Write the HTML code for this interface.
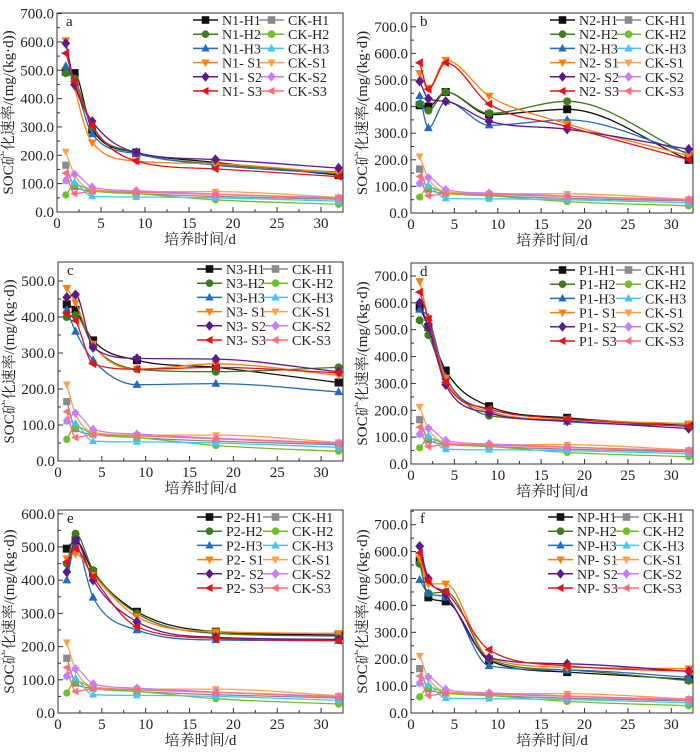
<!DOCTYPE html>
<html><head><meta charset="utf-8"><style>
html,body{margin:0;padding:0;background:#fff;}
svg{display:block;font-family:"Liberation Serif","Noto Serif CJK SC","Noto Sans CJK SC",serif;}
</style></head><body>
<svg id="fig" width="700" height="752" viewBox="0 0 700 752" xmlns="http://www.w3.org/2000/svg"></svg>
<script>
const days = [1, 2, 4, 9, 18, 32];
const seriesNames = ['H1','H2','H3','S1','S2','S3'];
const ckH1 = [165, 90, 75, 65, 55, 45];
const ckH2 = [60, 97, 75, 65, 43, 27];
const ckH3 = [110, 105, 55, 53, 50, 38];
const ckS1 = [213, 130, 80, 72, 72, 52];
const ckS2 = [112, 133, 88, 75, 63, 50];
const ckS3 = [137, 65, 73, 70, 62, 48];
const aH1 = [495, 490, 290, 210, 175, 130];
const aH2 = [490, 470, 300, 210, 170, 140];
const aH3 = [515, 455, 275, 205, 165, 135];
const aS1 = [605, 440, 245, 180, 170, 138];
const aS2 = [595, 450, 320, 210, 185, 155];
const aS3 = [560, 460, 305, 180, 152, 125];
const bH1 = [405, 400, 455, 370, 390, 200];
const bH2 = [410, 385, 455, 375, 420, 220];
const bH3 = [440, 320, 420, 330, 350, 225];
const bS1 = [525, 470, 575, 440, 335, 215];
const bS2 = [495, 430, 420, 345, 315, 240];
const bS3 = [565, 465, 565, 410, 325, 200];
const cH1 = [435, 420, 335, 280, 260, 218];
const cH2 = [400, 405, 320, 255, 248, 260];
const cH3 = [420, 360, 280, 212, 215, 192];
const cS1 = [480, 440, 325, 255, 270, 238];
const cS2 = [455, 462, 315, 285, 283, 248];
const cS3 = [410, 390, 270, 255, 260, 245];
const dH1 = [585, 510, 348, 215, 172, 143];
const dH2 = [535, 480, 320, 180, 165, 140];
const dH3 = [575, 545, 325, 200, 158, 142];
const dS1 = [680, 540, 320, 195, 165, 150];
const dS2 = [600, 510, 295, 190, 160, 132];
const dS3 = [640, 540, 305, 205, 168, 140];
const eH1 = [495, 520, 425, 305, 245, 235];
const eH2 = [450, 540, 430, 300, 240, 232];
const eH3 = [400, 505, 348, 250, 220, 218];
const eS1 = [465, 480, 415, 290, 245, 240];
const eS2 = [425, 520, 400, 275, 228, 222];
const eS3 = [455, 495, 410, 260, 225, 218];
const fH1 = [565, 430, 415, 195, 152, 125];
const fH2 = [555, 445, 450, 200, 160, 120];
const fH3 = [495, 445, 430, 175, 160, 133];
const fS1 = [575, 480, 480, 205, 170, 165];
const fS2 = [620, 500, 440, 205, 183, 155];
const fS3 = [595, 490, 450, 235, 175, 155];
const xTicks = [0, 5, 10, 15, 20, 25, 30];

const NS = 'http://www.w3.org/2000/svg';
const svg = document.getElementById('fig');
function mk(tag, attrs, parent){const e=document.createElementNS(NS,tag);for(const k in attrs)e.setAttribute(k,attrs[k]);(parent||svg).appendChild(e);return e;}

const trtColors = ['#111111','#3f7a1c','#1f6cc0','#ff7f0e','#5e1a8c','#e0141a'];
const ckColors = ['#8a8a8a','#6fbf2a','#45c4f5','#ffa04a','#c77dff','#ff6f78'];
const markers = ['sq','ci','tu','td','di','tl'];

const panels = [
 {id:'a',pre:'N1',L:57,R:343,T:13,y0:212,ppu:28.35/100,ymax:700,step:100,data:[aH1,aH2,aH3,aS1,aS2,aS3],lx:193},
 {id:'b',pre:'N2',L:411,R:693,T:13,y0:213,ppu:26.6/100,ymax:700,step:100,data:[bH1,bH2,bH3,bS1,bS2,bS3],lx:550},
 {id:'c',pre:'N3',L:58,R:343,T:262,y0:461,ppu:36/100,ymax:500,step:100,data:[cH1,cH2,cH3,cS1,cS2,cS3],lx:197},
 {id:'d',pre:'P1',L:411,R:693,T:263,y0:464,ppu:26.86/100,ymax:700,step:100,data:[dH1,dH2,dH3,dS1,dS2,dS3],lx:550},
 {id:'e',pre:'P2',L:58,R:343,T:510,y0:713,ppu:33.2/100,ymax:600,step:100,data:[eH1,eH2,eH3,eS1,eS2,eS3],lx:197},
 {id:'f',pre:'NP',L:411,R:693,T:510,y0:713,ppu:26.9/100,ymax:700,step:100,data:[fH1,fH2,fH3,fS1,fS2,fS3],lx:548}
];

function marker(g,type,x,y,color,r){
  let e;
  if(type==='sq') e=mk('rect',{x:x-r,y:y-r,width:2*r,height:2*r,fill:color},g);
  else if(type==='ci') e=mk('circle',{cx:x,cy:y,r:r,fill:color},g);
  else {
    let p;
    if(type==='tu') p=[[x,y-r*1.2],[x+r*1.1,y+r*0.8],[x-r*1.1,y+r*0.8]];
    if(type==='td') p=[[x,y+r*1.2],[x+r*1.1,y-r*0.8],[x-r*1.1,y-r*0.8]];
    if(type==='di') p=[[x,y-r*1.3],[x+r*1.1,y],[x,y+r*1.3],[x-r*1.1,y]];
    if(type==='tl') p=[[x-r*1.2,y],[x+r*0.8,y-r*1.1],[x+r*0.8,y+r*1.1]];
    e=mk('polygon',{points:p.map(q=>q.join(',')).join(' '),fill:color},g);
  }
  return e;
}
function smoothPath(pts){
  const n=pts.length, dx=[], s=[], m=[];
  for(let i=0;i<n-1;i++){dx[i]=pts[i+1][0]-pts[i][0];s[i]=(pts[i+1][1]-pts[i][1])/dx[i];}
  m[0]=s[0]; m[n-1]=s[n-2];
  for(let i=1;i<n-1;i++){ m[i]=(s[i-1]*s[i]<=0)?0:(s[i-1]+s[i])/2; }
  for(let i=0;i<n-1;i++){
    if(s[i]===0){m[i]=0;m[i+1]=0;continue;}
    const a=m[i]/s[i], b=m[i+1]/s[i], h=a*a+b*b;
    if(h>9){const t=3/Math.sqrt(h);m[i]=t*a*s[i];m[i+1]=t*b*s[i];}
  }
  let d='M'+pts[0][0].toFixed(1)+','+pts[0][1].toFixed(1);
  for(let i=0;i<n-1;i++){
    const h=dx[i]/3;
    d+=' C'+(pts[i][0]+h).toFixed(1)+','+(pts[i][1]+m[i]*h).toFixed(1)+' '+(pts[i+1][0]-h).toFixed(1)+','+(pts[i+1][1]-m[i+1]*h).toFixed(1)+' '+pts[i+1][0].toFixed(1)+','+pts[i+1][1].toFixed(1);
  }
  return d;
}
const ckData=[ckH1,ckH2,ckH3,ckS1,ckS2,ckS3];

panels.forEach(P=>{
  const g=mk('g',{});
  
  
  const B=P.y0;
  const xs=(P.R-P.L)/32.5;
  const X=v=>P.L+v*xs;
  const Y=v=>P.y0-v*P.ppu;
  const frame=mk('rect',{x:P.L,y:P.T,width:P.R-P.L,height:B-P.T,fill:'none',stroke:'#333',"stroke-width":1},g);
  
  
  xTicks.forEach(t=>{
    mk('line',{x1:X(t),x2:X(t),y1:B,y2:B-5,stroke:'#333'},g);
    const tx=mk('text',{x:X(t),y:B+16,"text-anchor":'middle',"font-size":15,fill:'#222'},g);
    tx.textContent=t;
    
    
    if(t<30) mk('line',{x1:X(t+2.5),x2:X(t+2.5),y1:B,y2:B-3,stroke:'#333'},g);
  });
  for(let v=0;v<=P.ymax;v+=P.step){
    mk('line',{x1:P.L,x2:P.L+5,y1:Y(v),y2:Y(v),stroke:'#333'},g);
    if(Y(v+P.step/2)>P.T+1) mk('line',{x1:P.L,x2:P.L+3,y1:Y(v+P.step/2),y2:Y(v+P.step/2),stroke:'#333'},g);
    const ty=mk('text',{x:P.L-3,y:Y(v)+5,"text-anchor":'end',"font-size":15,fill:'#222'},g);
    ty.textContent=v.toFixed(1);
    
    
  }
  const xt=mk('text',{x:(P.L+P.R)/2,y:B+32,"text-anchor":'middle',"font-size":15,fill:'#222'},g);
  xt.textContent='培养时间/d';
  
  
  const cy=(P.T+B)/2, cx=P.L-44;
  const yt=mk('text',{x:cx,y:cy,"text-anchor":'middle',"font-size":15,fill:'#222',transform:`rotate(-90 ${cx} ${cy})`},g);
  yt.textContent='SOC矿化速率/(mg/(kg·d))';
  
  
  const lab=mk('text',{x:P.L+9,y:P.T+13,"font-size":15,fill:'#222'},g);
  lab.textContent=P.id;
  
  
  const all=[];
  ckData.forEach((arr,i)=>all.push({arr,color:ckColors[i],m:markers[i],name:'CK-'+seriesNames[i],r:3.6}));
  P.data.forEach((arr,i)=>all.push({arr,color:trtColors[i],m:markers[i],name:P.pre+'-'+seriesNames[i],r:4}));
  all.forEach(s=>{
    const sg=mk('g',{},g);
    
    
    const pts=days.map((d,k)=>[X(d),Y(s.arr[k])]);
    mk('path',{d:smoothPath(pts),fill:'none',stroke:s.color,"stroke-width":1.3},sg);
    pts.forEach(p=>{
      const m=marker(sg,s.m,p[0],p[1],s.color,s.r);
      
      
    });
  });
  const lg=mk('g',{},g);
  
  
  seriesNames.forEach((n,i)=>{
    const y=P.T+7+i*14.2;
    const cols=[[P.lx,trtColors[i],P.pre+(n[0]==='S'?'- ':'-')+n],[P.lx+66,ckColors[i],'CK-'+n]];
    cols.forEach(c=>{
      const eg=mk('g',{},lg);
      
      
      mk('line',{x1:c[0],x2:c[0]+25,y1:y,y2:y,stroke:c[1],"stroke-width":1.5},eg);
      marker(eg,markers[i],c[0]+12.5,y,c[1],3.8);
      const t=mk('text',{x:c[0]+29,y:y+5,"font-size":14,fill:'#222'},eg);
      t.textContent=c[2];
    });
  });
});
</script>
</body></html>
